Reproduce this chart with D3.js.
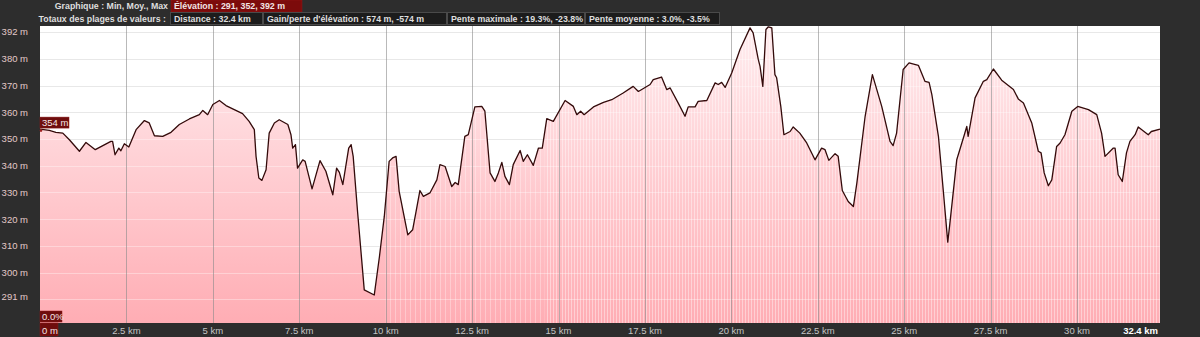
<!DOCTYPE html>
<html>
<head>
<meta charset="utf-8">
<script src="https://cdn.jsdelivr.net/npm/d3@7"></script>
<style>
  body { margin: 0; background: #2d2d2d; }
  svg { display: block; font-family: "Liberation Sans", Arial, sans-serif; }
</style>
</head>
<body>
<div id="chart"></div>
<script>
// elevation profile, distance in km, elevation in m
var dist = [0, 0.27, 0.46, 0.66, 0.85, 1.14, 1.33, 1.60, 2.05, 2.10, 2.17, 2.28, 2.34, 2.44, 2.57, 2.78,
  3.02, 3.16, 3.31, 3.55, 3.79, 4.03, 4.32, 4.61, 4.71, 4.85, 5.00, 5.19, 5.38, 5.86, 6.05, 6.20,
  6.25, 6.33, 6.42, 6.54, 6.63, 6.78, 6.92, 7.17, 7.26, 7.31, 7.39, 7.45, 7.60, 7.67, 7.87, 8.10,
  8.27, 8.47, 8.58, 8.66, 8.76, 8.93, 9.00, 9.06, 9.19, 9.38, 9.67, 9.82, 9.96, 10.10, 10.20, 10.30,
  10.39, 10.64, 10.78, 10.88, 10.99, 11.09, 11.28, 11.48, 11.57, 11.72, 11.91, 12.01, 12.10, 12.29,
  12.39, 12.58, 12.78, 12.87, 13.02, 13.16, 13.26, 13.36, 13.45, 13.58, 13.69, 13.89, 13.98, 14.10,
  14.27, 14.42, 14.53, 14.66, 14.85, 15.19, 15.43, 15.53, 15.64, 15.74, 16.01, 16.30, 16.54, 16.87,
  17.16, 17.31, 17.65, 17.74, 17.98, 18.13, 18.23, 18.46, 18.66, 18.75, 18.95, 19.04, 19.29, 19.53,
  19.62, 19.72, 19.82, 20.01, 20.25, 20.54, 20.63, 20.78, 20.83, 20.91, 21.00, 21.07, 21.17, 21.26,
  21.31, 21.43, 21.52, 21.70, 21.79, 21.98, 22.18, 22.42, 22.61, 22.71, 22.82, 23.00, 23.09, 23.21,
  23.38, 23.53, 23.63, 23.87, 24.08, 24.35, 24.59, 24.68, 24.78, 24.97, 25.14, 25.41, 25.60, 25.72,
  25.80, 25.99, 26.13, 26.26, 26.32, 26.52, 26.74, 26.81, 26.85, 27.05, 27.29, 27.39, 27.58, 27.82,
  28.16, 28.30, 28.45, 28.69, 28.88, 28.96, 29.05, 29.17, 29.27, 29.41, 29.51, 29.65, 29.85, 30.02,
  30.33, 30.57, 30.71, 30.81, 31.05, 31.10, 31.19, 31.31, 31.43, 31.53, 31.68, 31.77, 32.06, 32.15, 32.40];

var elev = [353.7, 353.2, 352.5, 352.2, 349.7, 345.4, 348.7, 346.0, 349.1, 349.1, 344.1, 346.6, 345.6, 348.2, 347.0, 353.5,
  356.9, 356.0, 351.2, 351.0, 352.5, 355.4, 357.5, 359.1, 360.7, 359.1, 362.9, 364.4, 362.5, 359.5, 356.6, 353.5,
  343.5, 335.4, 334.5, 338.5, 352.2, 356.0, 357.2, 355.4, 351.6, 346.6, 347.9, 339.1, 342.2, 341.6, 331.3, 341.9,
  337.9, 329.1, 339.1, 337.5, 332.9, 346.6, 347.9, 343.5, 322.3, 293.5, 291.6, 306.0, 321.0, 341.6, 342.9, 343.5,
  330.4, 314.1, 316.0, 322.9, 330.7, 328.5, 329.8, 334.7, 340.4, 339.7, 332.2, 333.7, 332.9, 351.0,
  351.6, 362.0, 362.2, 360.4, 337.3, 334.1, 337.3, 341.2, 336.0, 332.9, 340.4, 345.7, 341.6, 344.1,
  340.1, 346.6, 346.6, 357.6, 356.6, 364.4, 362.2, 359.1, 360.4, 359.1, 362.0, 363.7, 364.7, 367.2,
  369.7, 367.8, 370.4, 372.2, 373.2, 368.5, 369.1, 363.5, 358.5, 362.0, 362.0, 364.1, 364.4, 371.0,
  370.4, 371.2, 369.3, 374.7, 383.5, 391.6, 389.7, 379.7, 377.2, 369.7, 391.0, 392.0, 391.6, 374.1,
  372.9, 362.2, 351.6, 352.8, 354.5, 352.2, 348.5, 342.2, 346.6, 346.0, 342.0, 344.5, 343.5, 330.7,
  326.6, 324.7, 333.5, 358.5, 374.1, 362.2, 349.1, 347.5, 352.2, 376.0, 378.5, 377.6, 371.6, 371.2,
  366.6, 351.0, 330.8, 311.4, 318.2, 342.2, 351.6, 354.7, 351.0, 365.4, 371.6, 372.2, 376.2, 372.0,
  368.5, 365.0, 363.5, 356.0, 345.4, 344.8, 337.3, 332.5, 334.7, 347.2, 348.5, 351.6, 360.4, 362.2,
  361.0, 359.1, 352.2, 343.5, 346.6, 346.6, 336.6, 334.1, 344.8, 349.1, 351.6, 354.5, 351.6, 352.8, 353.7];

var xTicks = [2.5, 5, 7.5, 10, 12.5, 15, 17.5, 20, 22.5, 25, 27.5, 30];
var xTickLabels = ["2.5 km", "5 km", "7.5 km", "10 km", "12.5 km", "15 km", "17.5 km", "20 km", "22.5 km", "25 km", "27.5 km", "30 km"];
var yGrid = [390, 380, 370, 360, 350, 340, 330, 320, 310, 300, 290];
var yTicks = [392, 380, 370, 360, 350, 340, 330, 320, 310, 300, 291];

var statLabels = ["Distance : 32.4 km", "Gain/perte d'élévation : 574 m, -574 m", "Pente maximale : 19.3%, -23.8%", "Pente moyenne : 3.0%, -3.5%"];
var statEdges = [170, 263, 447, 585, 720];

var svgWidth = 1200;
var svgHeight = 337;
var margin = { top: 26, right: 40, bottom: 14, left: 40 };
var chartWidth = svgWidth - margin.left - margin.right;
var chartHeight = svgHeight - margin.top - margin.bottom;

var svg = d3.select("#chart").append("svg")
    .attr("width", svgWidth)
    .attr("height", svgHeight);

svg.append("rect").attr("width", svgWidth).attr("height", svgHeight).attr("fill", "#2d2d2d");

var defs = svg.append("defs");
var grad = defs.append("linearGradient").attr("id", "fillGrad")
    .attr("x1", 0).attr("y1", 0).attr("x2", 0).attr("y2", 1);
grad.append("stop").attr("offset", "0%").attr("stop-color", "#ffeef0");
grad.append("stop").attr("offset", "100%").attr("stop-color", "#ffadb4");

var stripes = defs.append("pattern").attr("id", "stripes")
    .attr("patternUnits", "userSpaceOnUse").attr("width", 3).attr("height", 10);
stripes.append("rect").attr("x", 0).attr("width", 1).attr("height", 10).attr("fill", "#fff").attr("opacity", 0.4);

var stripesWide = defs.append("pattern").attr("id", "stripesWide")
    .attr("patternUnits", "userSpaceOnUse").attr("width", 5).attr("height", 10);
stripesWide.append("rect").attr("x", 0).attr("width", 1).attr("height", 10).attr("fill", "#fff").attr("opacity", 0.3);

var chart = svg.append("g").attr("transform", `translate(${margin.left},${margin.top})`);

var xScale = d3.scaleLinear().domain([0, 32.4]).range([0, chartWidth]);
var yScale = d3.scaleLinear().domain([281.1, 392.3]).range([chartHeight, 0]);

defs.append("clipPath").attr("id", "denseClip").append("rect")
    .attr("x", xScale(14.6)).attr("y", 0).attr("width", chartWidth - xScale(14.6)).attr("height", chartHeight);
defs.append("clipPath").attr("id", "midClip").append("rect")
    .attr("x", xScale(10)).attr("y", 0).attr("width", xScale(14.6) - xScale(10)).attr("height", chartHeight);

var points = dist.map(function(d, i) { return [d, elev[i]]; });

// plot background
chart.append("rect").attr("width", chartWidth).attr("height", chartHeight).attr("fill", "#ffffff");

// horizontal grid (under the fill)
chart.selectAll(".hgrid").data(yGrid).enter().append("line")
    .attr("x1", 0).attr("x2", chartWidth)
    .attr("y1", function(d) { return Math.round(yScale(d)) + 0.5; })
    .attr("y2", function(d) { return Math.round(yScale(d)) + 0.5; })
    .attr("stroke", "#dcdcdc");

var area = d3.area()
    .x(function(d) { return xScale(d[0]); })
    .y0(chartHeight)
    .y1(function(d) { return yScale(d[1]); });

var line = d3.line()
    .x(function(d) { return xScale(d[0]); })
    .y(function(d) { return yScale(d[1]); });

chart.append("path").datum(points).attr("d", area).attr("fill", "url(#fillGrad)");
chart.append("path").datum(points).attr("d", area).attr("fill", "url(#stripes)").attr("clip-path", "url(#denseClip)");
chart.append("path").datum(points).attr("d", area).attr("fill", "url(#stripesWide)").attr("clip-path", "url(#midClip)");

// grid lines over the fill
chart.selectAll(".hgrid2").data(yGrid).enter().append("line")
    .attr("x1", 0).attr("x2", chartWidth)
    .attr("y1", function(d) { return Math.round(yScale(d)) + 0.5; })
    .attr("y2", function(d) { return Math.round(yScale(d)) + 0.5; })
    .attr("stroke", "#ffffff").attr("stroke-opacity", 0.35);

chart.selectAll(".vgrid").data(xTicks).enter().append("line")
    .attr("x1", function(d) { return Math.round(xScale(d)) + 0.5; })
    .attr("x2", function(d) { return Math.round(xScale(d)) + 0.5; })
    .attr("y1", 0).attr("y2", chartHeight)
    .attr("stroke", "#8a8a8a").attr("stroke-opacity", 0.6);

chart.append("path").datum(points).attr("d", line)
    .attr("fill", "none").attr("stroke", "#330a0a").attr("stroke-width", 1.3)
    .attr("stroke-linejoin", "round");

// y axis labels
chart.selectAll(".ylab").data(yTicks).enter().append("text")
    .attr("x", -12)
    .attr("y", function(d) { return Math.max(yScale(d), 5.5) + 3.5; })
    .attr("text-anchor", "end")
    .attr("font-size", "9.5px")
    .attr("fill", "#e3c9c9")
    .text(function(d) { return d + " m"; });

// x axis labels
chart.selectAll(".xlab").data(xTicks).enter().append("text")
    .attr("x", function(d) { return xScale(d); })
    .attr("y", chartHeight + 11)
    .attr("text-anchor", "middle")
    .attr("font-size", "9.5px")
    .attr("fill", "#c4c4c4")
    .text(function(d, i) { return xTickLabels[i]; });

chart.append("text")
    .attr("x", chartWidth - 2).attr("y", chartHeight + 11)
    .attr("text-anchor", "end").attr("font-size", "9.5px").attr("font-weight", "bold")
    .attr("fill", "#ffffff").text("32.4 km");

// start markers
function redTag(x, y, w, h, label) {
    chart.append("rect").attr("x", x).attr("y", y).attr("width", w).attr("height", h)
        .attr("fill", "#6e0d0d").attr("stroke", "#8c1a1a").attr("stroke-width", 0.5);
    chart.append("text").attr("x", x + 2).attr("y", y + h - 2.5)
        .attr("font-size", "9.5px").attr("fill", "#f4e6e6").text(label);
}
redTag(0, yScale(elev[0]) - 12, 29, 11, Math.round(elev[0]) + " m");
chart.append("circle").attr("cx", 1).attr("cy", yScale(elev[0]) + 1.5).attr("r", 1.3).attr("fill", "#a02020");
redTag(0, chartHeight - 12, 22, 11, "0.0%");
redTag(0, chartHeight, 18, 13, "0 m");

// header
var header = svg.append("g").attr("font-weight", "bold").attr("font-size", "8.8px");
header.append("text").attr("x", 168).attr("y", 9)
    .attr("text-anchor", "end").attr("fill", "#dedede")
    .text("Graphique : Min, Moy., Max");
header.append("rect").attr("x", 171).attr("y", 0).attr("width", 131).attr("height", 12)
    .attr("fill", "#7c0b0b").attr("stroke", "#951616").attr("stroke-width", 0.5);
header.append("text").attr("x", 174).attr("y", 9)
    .attr("fill", "#f2e4e4")
    .text("Élévation : 291, 352, 392 m");

header.append("text").attr("x", 166).attr("y", 22)
    .attr("text-anchor", "end").attr("fill", "#dedede")
    .text("Totaux des plages de valeurs :");

header.selectAll(".stat").data(statLabels).enter().append("rect")
    .attr("x", function(d, i) { return statEdges[i] + 0.5; })
    .attr("y", 12.5)
    .attr("width", function(d, i) { return statEdges[i + 1] - statEdges[i] - 1; })
    .attr("height", 12)
    .attr("fill", "#1c1c1c").attr("stroke", "#4a4a4a");
header.selectAll(".statText").data(statLabels).enter().append("text")
    .attr("x", function(d, i) { return statEdges[i] + 4; })
    .attr("y", 22)
    .attr("fill", "#dedede")
    .text(function(d) { return d; });
</script>
</body>
</html>
